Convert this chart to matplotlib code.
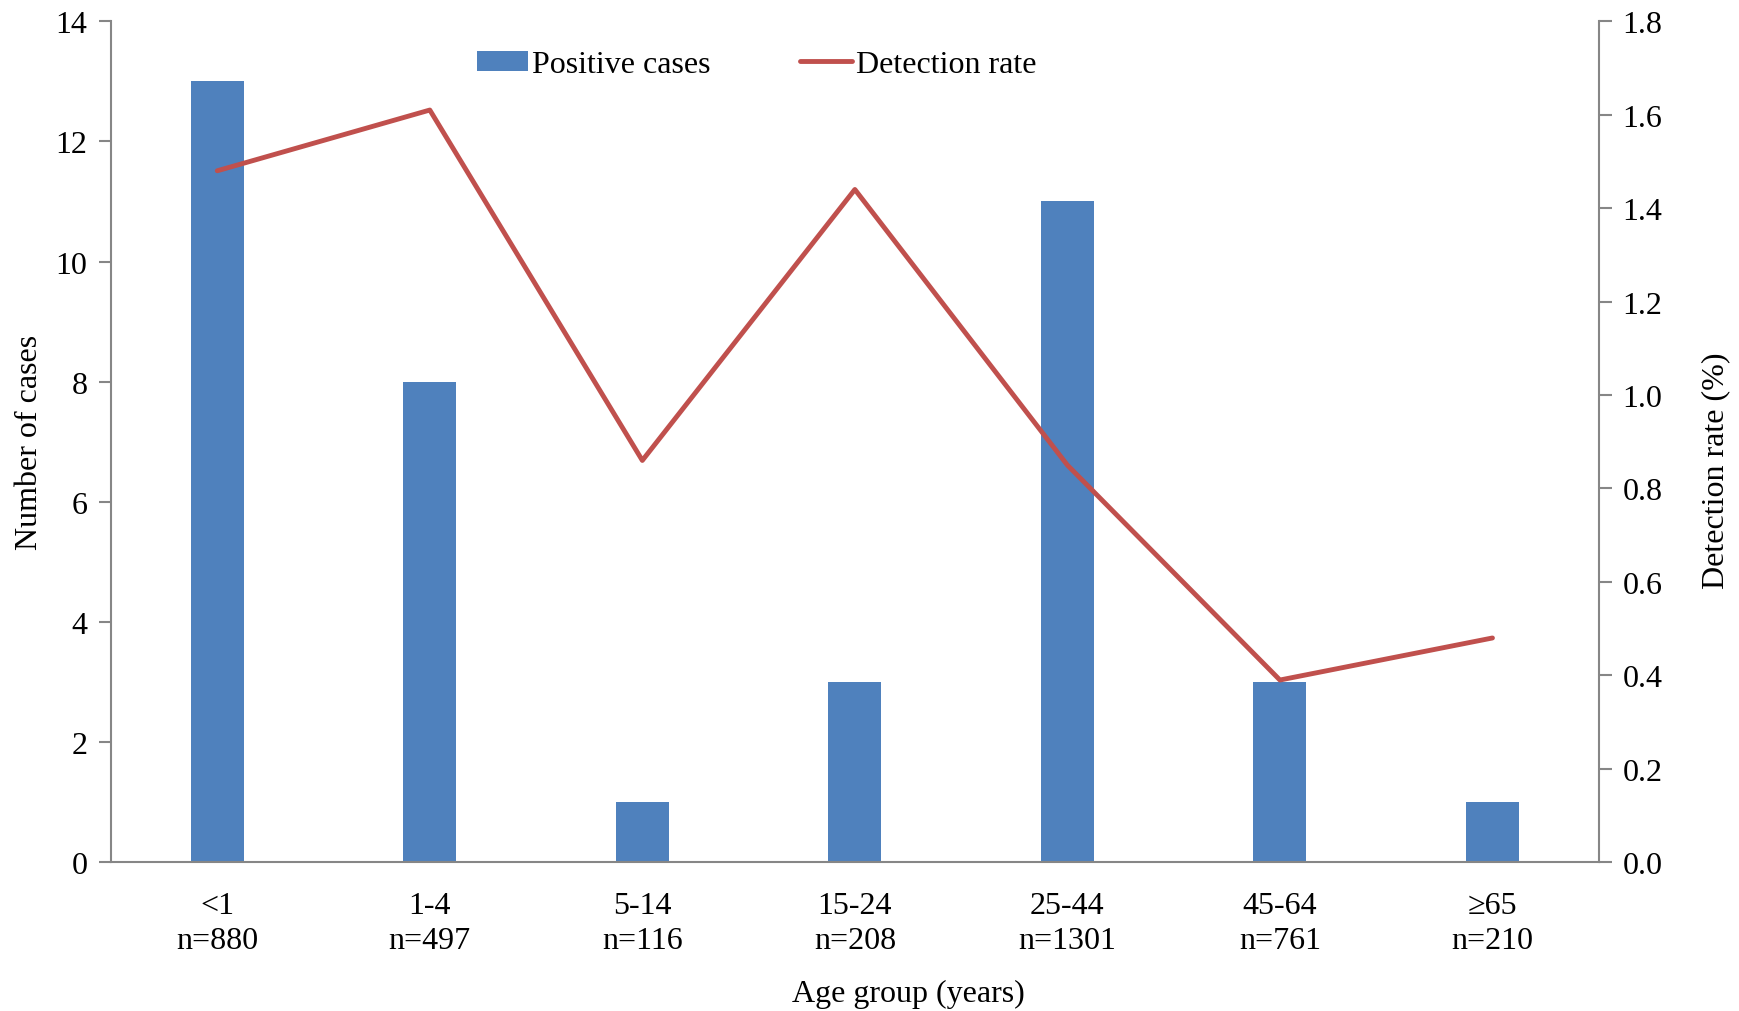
import matplotlib.pyplot as plt
from matplotlib.patches import Patch
from matplotlib.lines import Line2D

plt.rcParams['font.family'] = ['Liberation Serif', 'DejaVu Serif']

age_groups = ['<1', '1-4', '5-14', '15-24', '25-44', '45-64', '\u226565']
group_sizes = [880, 497, 116, 208, 1301, 761, 210]
positive_cases = [13, 8, 1, 3, 11, 3, 1]
detection_rate = [1.48, 1.61, 0.86, 1.44, 0.85, 0.39, 0.48]

bar_color = '#4F81BD'
line_color = '#C0504D'
axis_color = '#868686'
fs = 23

fig = plt.figure(figsize=(17.4, 10.12), dpi=100)
ax = fig.add_axes([0.0638, 0.147, 0.855, 0.831])
ax2 = ax.twinx()

x = list(range(len(age_groups)))
ax.bar(x, positive_cases, width=0.25, color=bar_color, zorder=2)
ax2.plot(x, detection_rate, color=line_color, lw=3.5, solid_capstyle='round', zorder=3)

ax.set_xlim(-0.5, len(age_groups) - 0.5)
ax.set_ylim(0, 14)
ax.set_yticks(range(0, 15, 2))
ax2.set_ylim(0, 1.8)
ax2.set_yticks([i * 0.2 for i in range(10)])
ax2.set_yticklabels([f'{i * 0.2:.1f}' for i in range(10)])

ax.set_xticks(x)
ax.set_xticklabels([f'{g}\nn={n}' for g, n in zip(age_groups, group_sizes)],
                   linespacing=1.25)

for a in (ax, ax2):
    a.spines['top'].set_visible(False)
    for s in ('left', 'right', 'bottom'):
        a.spines[s].set_color(axis_color)
        a.spines[s].set_linewidth(1.5)
    a.tick_params(axis='y', direction='out', length=9, width=1.5, color=axis_color,
                  labelsize=fs, pad=8)
ax.spines['right'].set_visible(False)
ax2.spines['left'].set_visible(False)
ax2.spines['bottom'].set_visible(False)
ax.tick_params(axis='x', length=0, labelsize=fs, pad=21)

ax.set_ylabel('Number of cases', fontsize=fs, labelpad=8)
ax2.set_ylabel('Detection rate (%)', fontsize=fs, labelpad=28)
ax2.yaxis.label.set_y(0.467)
ax.set_xlabel('Age group (years)', fontsize=fs, labelpad=17)
ax.xaxis.label.set_x(0.536)

handles = [Patch(facecolor=bar_color, label='Positive cases'),
           Line2D([0], [0], color=line_color, lw=3.5, solid_capstyle='round',
                  label='Detection rate')]
ax2.legend(handles=handles, loc='upper center', bbox_to_anchor=(0.434, 1.0), ncol=2,
           frameon=False, fontsize=fs, handlelength=1.6, handleheight=0.6,
           handletextpad=0.15, columnspacing=2.8)

fig.savefig('out.png', dpi=100)
